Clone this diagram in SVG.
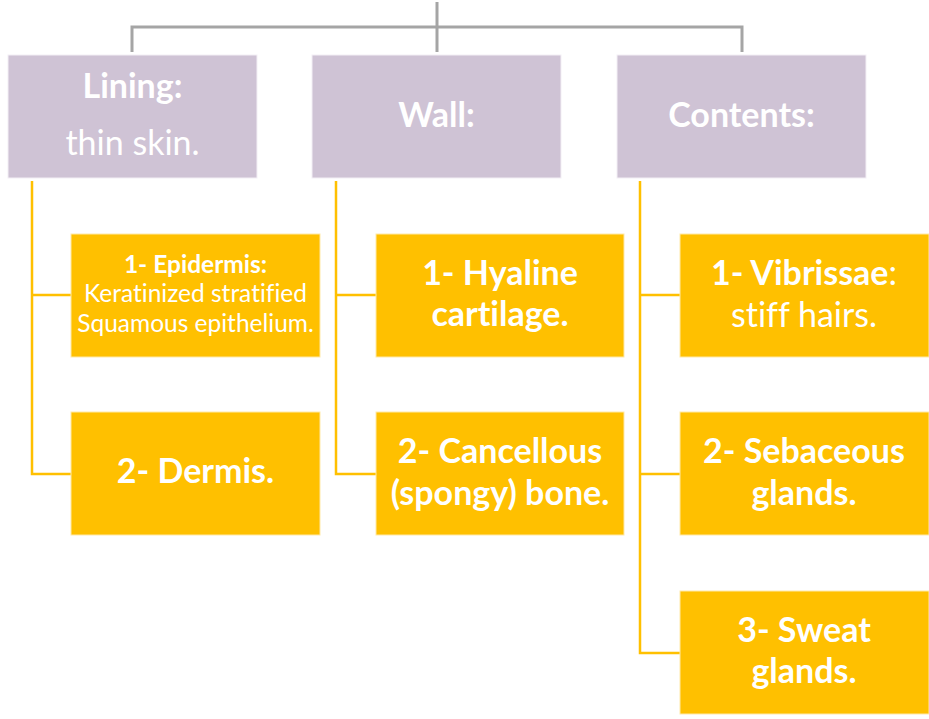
<svg xmlns="http://www.w3.org/2000/svg" width="929" height="719" viewBox="0 0 929 719">
<style>
.top{fill:#CFC3D5;stroke:#F3EFF5;stroke-width:1}
.sub{fill:#FFC000;stroke:#FFE9A8;stroke-width:1}
.g{stroke:#A5A5A5;stroke-width:3;fill:none}
.y{stroke:#FFC000;stroke-width:2.5;fill:none}
text{font-family:Lato,"Open Sans","Liberation Sans",sans-serif;fill:#FFFFFF;text-anchor:middle;font-variant-ligatures:none;font-feature-settings:"liga" 0,"dlig" 0}
.b{font-weight:bold;font-size:34px}
.r{font-weight:normal;font-size:34px}
.bs{font-weight:bold;font-size:24.5px}
.rs{font-weight:normal;font-size:24.5px}
</style>
<rect width="929" height="719" fill="#FFFFFF"/>
<g id="connectors">
<path class="g" d="M437 2V52M132 52V27H742V52"/>
<path class="y" d="M32 181V474H71M32 295H71"/>
<path class="y" d="M336 181V474H376M336 295H376"/>
<path class="y" d="M640 181V653H680M640 295H680M640 474H680"/>
</g>
<g id="lining">
<rect class="top" x="8" y="55" width="249" height="123"/>
<text class="b" x="132.5" y="98">Lining:</text>
<text class="r" x="132.5" y="155">thin skin.</text>
</g>
<g id="wall">
<rect class="top" x="312" y="55" width="249" height="123"/>
<text class="b" x="436.5" y="127">Wall:</text>
</g>
<g id="contents">
<rect class="top" x="617" y="55" width="249" height="123"/>
<text class="b" x="741.5" y="127">Contents:</text>
</g>
<g id="epidermis">
<rect class="sub" x="71" y="234" width="249" height="123"/>
<text class="bs" x="195.5" y="273">1- Epidermis:</text>
<text class="rs" x="195.5" y="302">Keratinized stratified</text>
<text class="rs" x="195.5" y="332">Squamous epithelium.</text>
</g>
<g id="dermis">
<rect class="sub" x="71" y="412" width="249" height="123"/>
<text class="b" x="195.5" y="483">2- Dermis.</text>
</g>
<g id="hyaline">
<rect class="sub" x="376" y="234" width="248" height="123"/>
<text class="b" x="500" y="285">1- Hyaline</text>
<text class="b" x="500" y="326">cartilage.</text>
</g>
<g id="cancellous">
<rect class="sub" x="376" y="412" width="248" height="123"/>
<text class="b" x="500" y="463">2- Cancellous</text>
<text class="b" x="500" y="505">(spongy) bone.</text>
</g>
<g id="vibrissae">
<rect class="sub" x="680" y="234" width="249" height="123"/>
<text class="b" x="804" y="285">1- Vibrissae<tspan font-weight="normal">:</tspan></text>
<text class="r" x="804" y="327">stiff hairs.</text>
</g>
<g id="sebaceous">
<rect class="sub" x="680" y="412" width="249" height="123"/>
<text class="b" x="804" y="463">2- Sebaceous</text>
<text class="b" x="804" y="505">glands.</text>
</g>
<g id="sweat">
<rect class="sub" x="680" y="591" width="249" height="123"/>
<text class="b" x="804" y="642">3- Sweat</text>
<text class="b" x="804" y="683">glands.</text>
</g>
</svg>
